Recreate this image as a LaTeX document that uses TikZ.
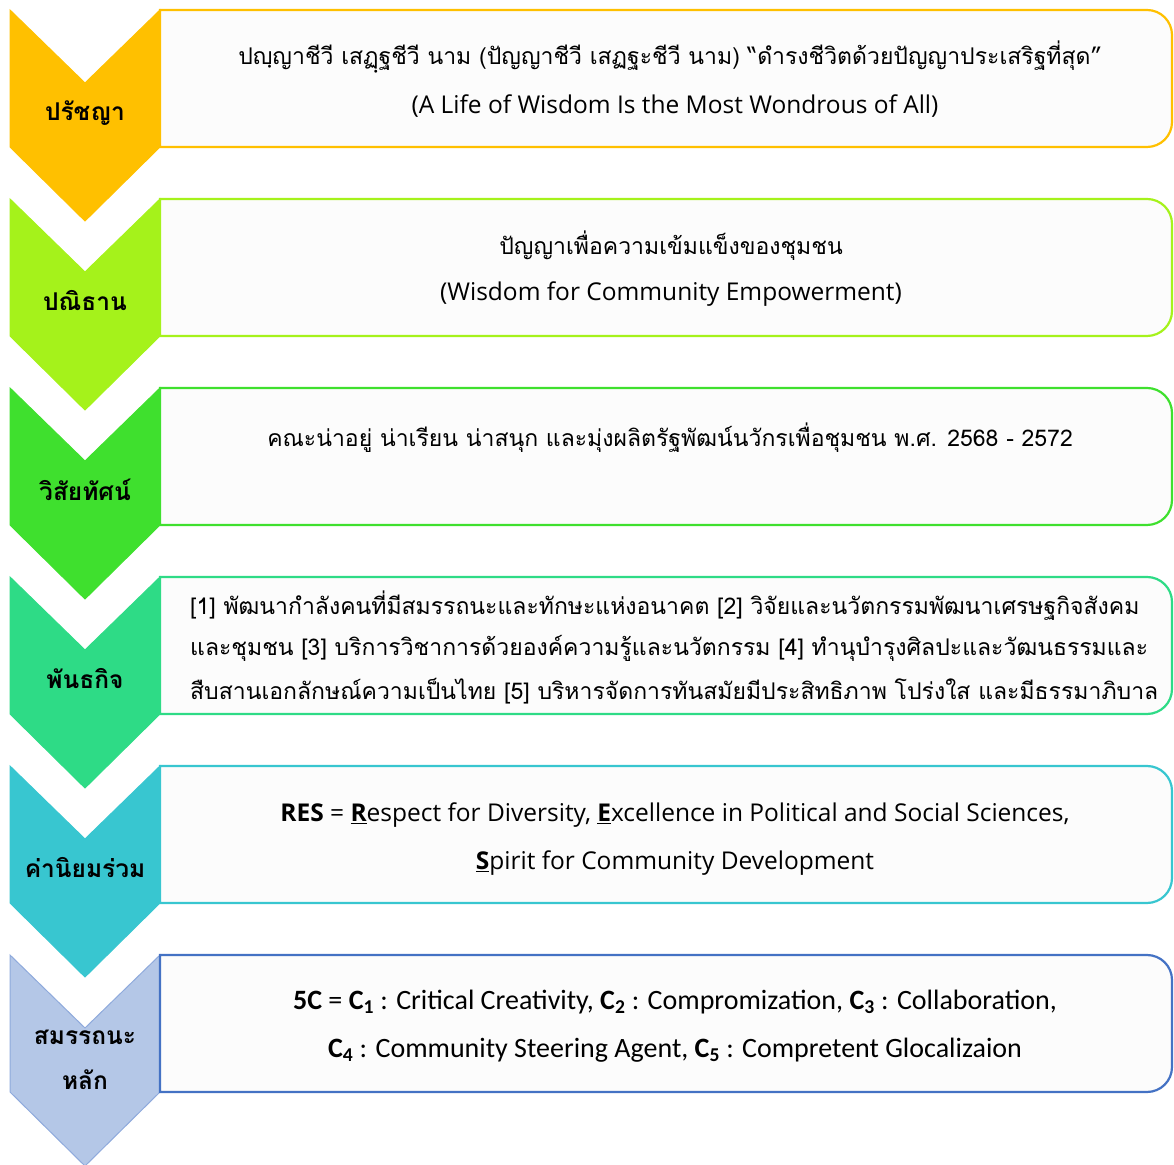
\documentclass[tikz,border=0pt]{standalone}
\usepackage{fontspec}
\setmainfont[Script=Thai]{Loma}
\newfontfamily\calfont{Carlito}
\newfontfamily\engfont{Open Sans}
\definecolor{cA}{HTML}{FFC000}
\definecolor{cB}{HTML}{A5F21B}
\definecolor{cC}{HTML}{3FE02E}
\definecolor{cD}{HTML}{2EDB86}
\definecolor{cE}{HTML}{38C6D0}
\definecolor{cF}{HTML}{B4C7E7}
\definecolor{cFline}{HTML}{8FAADC}
\definecolor{cFbox}{HTML}{4472C4}
\definecolor{boxfill}{HTML}{FCFCFC}
\newcommand{\chev}[3]{% top, fill, stroke
  \fill[#2,draw=#3,line width=1pt] (10,1164-#1) -- (85,1164-#1-73) -- (160,1164-#1) -- (160,1164-#1-137) -- (85,1164-#1-211) -- (10,1164-#1-137) -- cycle;}
\newcommand{\rowbox}[2]{% top, stroke
  \draw[draw=#2,line width=2.2pt,fill=boxfill] (160,1164-#1) -- (1147,1164-#1) arc[start angle=90,end angle=0,radius=25] -- (1172,1164-#1-112) arc[start angle=0,end angle=-90,radius=25] -- (160,1164-#1-137) -- cycle;}
\begin{document}
\begin{tikzpicture}[x=1pt,y=1pt,
  lab/.style={font=\fontsize{24.5}{28}\selectfont\bfseries,align=center,inner sep=0},
  txt/.style={font=\fontsize{23}{26}\selectfont,inner sep=0},
  etxt/.style={font=\engfont\fontsize{24.5}{28}\selectfont,inner sep=0},
  ctxt/.style={font=\calfont\fontsize{28}{32}\selectfont,inner sep=0},
  ltxt/.style={txt,anchor=west}]
\useasboundingbox (0,0) rectangle (1174,1164);
\chev{955}{cF}{cFline}
\chev{766}{cE}{cE}
\chev{577}{cD}{cD}
\chev{388}{cC}{cC}
\chev{199}{cB}{cB}
\chev{10}{cA}{cA}
\rowbox{10}{cA}
\rowbox{199}{cB}
\rowbox{388}{cC}
\rowbox{577}{cD}
\rowbox{766}{cE}
\rowbox{955}{cFbox}
% labels
\node[lab] (l1) at (85,1164-113) {ปรัชญา};
\node[lab] (l2) at (85,1164-301) {ปณิธาน};
\node[lab] (l3) at (85,1164-490) {วิสัยทัศน์};
\node[lab] (l4) at (85,1164-679) {พันธกิจ};
\node[lab] (l5) at (85,1164-868) {ค่านิยมร่วม};
\node[lab] (l6a) at (85,1164-1037) {สมรรถนะ};
\node[lab] (l6b) at (85,1164-1080) {หลัก};
% row 1
\node[txt] (t1a) at (670,1164-57) {ปญฺญาชีวี เสฏฺฐชีวี นาม (ปัญญาชีวี เสฏฐะชีวี นาม) “ดำรงชีวิตด้วยปัญญาประเสริฐที่สุด”};
\node[etxt] (t1b) at (675,1164-106) {(A Life of Wisdom Is the Most Wondrous of All)};
% row 2
\node[txt] (t2a) at (671,1164-246) {ปัญญาเพื่อความเข้มแข็งของชุมชน};
\node[etxt] (t2b) at (671,1164-294) {(Wisdom for Community Empowerment)};
% row 3
\node[txt] (t3a) at (670,1164-438) {คณะน่าอยู่ น่าเรียน น่าสนุก และมุ่งผลิตรัฐพัฒน์นวักรเพื่อชุมชน พ.ศ. 2568 - 2572};
% row 4
\node[ltxt] (t4a) at (190,1164-606) {[1] พัฒนากำลังคนที่มีสมรรถนะและทักษะแห่งอนาคต [2] วิจัยและนวัตกรรมพัฒนาเศรษฐกิจสังคม};
\node[ltxt] (t4b) at (190,1164-648) {และชุมชน [3] บริการวิชาการด้วยองค์ความรู้และนวัตกรรม [4] ทำนุบำรุงศิลปะและวัฒนธรรมและ};
\node[ltxt] (t4c) at (190,1164-691) {สืบสานเอกลักษณ์ความเป็นไทย [5] บริหารจัดการทันสมัยมีประสิทธิภาพ โปร่งใส และมีธรรมาภิบาล};
% row 5
\node[etxt] (t5a) at (675,1164-815) {\textbf{RES} = \textbf{\underline{R}}espect for Diversity, \textbf{\underline{E}}xcellence in Political and Social Sciences,};
\node[etxt] (t5b) at (675,1164-863) {\textbf{\underline{S}}pirit for Community Development};
% row 6
\node[ctxt] (t6a) at (675,1164-1002) {\textbf{5C} = \textbf{C\textsubscript{1}} : Critical Creativity, \textbf{C\textsubscript{2}} : Compromization, \textbf{C\textsubscript{3}} : Collaboration,};
\node[ctxt] (t6b) at (675,1164-1050) {\textbf{C\textsubscript{4}} : Community Steering Agent, \textbf{C\textsubscript{5}} : Compretent Glocalizaion};
\end{tikzpicture}
\end{document}
